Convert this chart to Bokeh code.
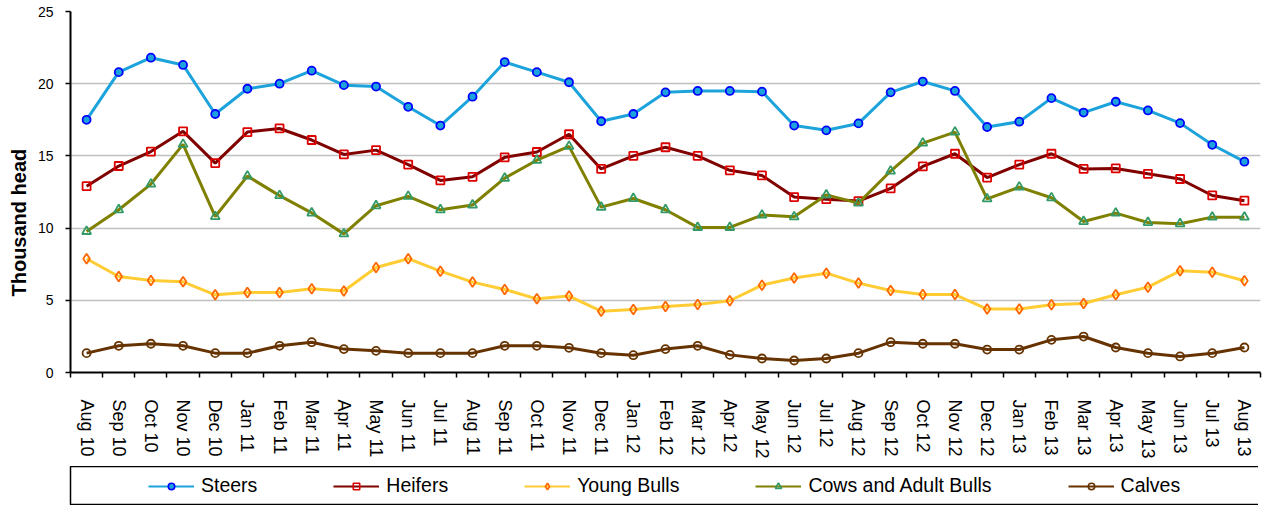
from bokeh.plotting import figure
from bokeh.models import Range1d, FixedTicker, Legend, LegendItem, Title
from bokeh.layouts import column
from bokeh.embed import file_html
from bokeh.resources import INLINE

months = ["Aug 10", "Sep 10", "Oct 10", "Nov 10", "Dec 10", "Jan 11", "Feb 11", "Mar 11",
          "Apr 11", "May 11", "Jun 11", "Jul 11", "Aug 11", "Sep 11", "Oct 11", "Nov 11",
          "Dec 11", "Jan 12", "Feb 12", "Mar 12", "Apr 12", "May 12", "Jun 12", "Jul 12",
          "Aug 12", "Sep 12", "Oct 12", "Nov 12", "Dec 12", "Jan 13", "Feb 13", "Mar 13",
          "Apr 13", "May 13", "Jun 13", "Jul 13", "Aug 13"]

steers = [17.5, 20.8, 21.8, 21.3, 17.9, 19.65, 20.0, 20.9, 19.9, 19.8, 18.4, 17.1, 19.1,
          21.5, 20.8, 20.1, 17.4, 17.9, 19.4, 19.5, 19.5, 19.45, 17.1, 16.77, 17.25,
          19.4, 20.15, 19.5, 17.0, 17.37, 19.0, 18.0, 18.75, 18.15, 17.27, 15.77, 14.6]
heifers = [12.9, 14.3, 15.3, 16.7, 14.5, 16.65, 16.9, 16.1, 15.1, 15.4, 14.4, 13.3, 13.55,
           14.9, 15.27, 16.5, 14.1, 15.0, 15.6, 15.0, 14.0, 13.65, 12.15, 12.0, 11.87,
           12.75, 14.27, 15.15, 13.5, 14.4, 15.15, 14.1, 14.13, 13.76, 13.4, 12.26, 11.9]
young_bulls = [7.88, 6.65, 6.37, 6.28, 5.38, 5.54, 5.54, 5.8, 5.65, 7.27, 7.88, 7.02, 6.26,
               5.75, 5.1, 5.29, 4.25, 4.36, 4.57, 4.71, 4.97, 6.05, 6.54, 6.88, 6.19,
               5.68, 5.4, 5.4, 4.39, 4.39, 4.69, 4.78, 5.38, 5.91, 7.04, 6.95, 6.35]
cows = [9.77, 11.27, 13.05, 15.8, 10.8, 13.6, 12.25, 11.05, 9.6, 11.55, 12.2, 11.27, 11.6,
        13.46, 14.7, 15.66, 11.45, 12.05, 11.27, 10.05, 10.05, 10.9, 10.78, 12.3, 11.73,
        13.95, 15.89, 16.65, 12.03, 12.84, 12.1, 10.46, 11.04, 10.39, 10.3, 10.76, 10.76]
calves = [1.34, 1.85, 1.99, 1.85, 1.34, 1.34, 1.85, 2.1, 1.62, 1.5, 1.34, 1.34, 1.34,
          1.85, 1.85, 1.71, 1.34, 1.2, 1.62, 1.85, 1.22, 0.97, 0.83, 0.97, 1.34,
          2.1, 1.99, 1.99, 1.59, 1.59, 2.26, 2.49, 1.73, 1.34, 1.11, 1.34, 1.73]

y_ticks = [0, 5, 10, 15, 20, 25]

FONT = "Liberation Sans"
xs = list(range(len(months)))

p = figure(frame_width=1190, frame_height=361, output_backend="svg", toolbar_location=None,
           x_range=Range1d(-0.5, len(months) - 0.5), y_range=Range1d(0, 25),
           min_border_left=68, min_border_top=11, min_border_right=2, min_border_bottom=94)
p.outline_line_color = None
p.background_fill_color = "white"
p.border_fill_color = "white"

# grids
p.xgrid.grid_line_color = None
p.ygrid.grid_line_color = "#c0c0c0"
p.ygrid.grid_line_width = 1.5

# y axis
p.yaxis.ticker = FixedTicker(ticks=y_ticks)
p.yaxis.axis_line_color = "black"
p.yaxis.axis_line_width = 2
p.yaxis.major_tick_out = 5
p.yaxis.major_tick_in = 0
p.yaxis.major_tick_line_color = "black"
p.yaxis.major_tick_line_width = 1.5
p.yaxis.minor_tick_line_color = None
p.yaxis.major_label_text_font = FONT
p.yaxis.major_label_text_font_size = "14px"
p.yaxis.major_label_text_color = "black"
p.yaxis.major_label_standoff = 12

# y axis title, placed a little below the frame centre as in the original
p.add_layout(Title(text="Thousand head", align="left", offset=76, standoff=10,
                   text_font=FONT, text_font_size="20px", text_font_style="bold",
                   text_color="black"), "left")

# x axis
p.xaxis.ticker = FixedTicker(ticks=xs, minor_ticks=[i - 0.5 for i in range(len(months) + 1)])
p.xaxis.major_label_overrides = {i: m for i, m in enumerate(months)}
p.xaxis.major_label_orientation = "vertical"
p.xaxis.axis_line_color = "black"
p.xaxis.axis_line_width = 2
p.xaxis.major_tick_out = 0
p.xaxis.major_tick_in = 0
p.xaxis.minor_tick_out = 5
p.xaxis.minor_tick_in = 0
p.xaxis.minor_tick_line_color = "black"
p.xaxis.minor_tick_line_width = 1.5
p.xaxis.major_label_text_font = FONT
p.xaxis.major_label_text_font_size = "18px"
p.xaxis.major_label_text_color = "black"
p.xaxis.major_label_standoff = 22

series = [
    ("Steers", steers, "#1ca3dc", "circle", "#0000ff", "#1ca3dc", 1.0, 8),
    ("Heifers", heifers, "#800000", "square", "#dd0000", "white", 0.0, 8),
    ("Young Bulls", young_bulls, "#ffcc33", "diamond", "#ff6600", "white", 0.0, 10),
    ("Cows and Adult Bulls", cows, "#808000", "triangle", "#339966", "white", 0.0, 9),
    ("Calves", calves, "#663300", "circle", "#663300", "white", 0.0, 8),
]

# legend strip: a second figure whose frame outline is the legend box
# (its y range is set far above the data so only the legend keys are visible)
lg = figure(frame_width=1192, frame_height=38, output_backend="svg", toolbar_location=None,
            x_axis_type=None, y_axis_type=None,
            x_range=Range1d(-0.5, len(months) - 0.5), y_range=Range1d(100, 101),
            min_border_left=66, min_border_right=0, min_border_top=0, min_border_bottom=1)
lg.grid.visible = False
lg.outline_line_color = "black"
lg.outline_line_width = 1.5
lg.background_fill_color = "white"
lg.border_fill_color = "white"

items = []
for name, vals, lc, marker, mc, fc, fa, sz in series:
    p.line(xs, vals, line_color=lc, line_width=3)
    p.scatter(xs, vals, marker=marker, size=sz, line_color=mc, line_width=1.8,
              fill_color=fc, fill_alpha=fa)
    k1 = lg.line(xs, vals, line_color=lc, line_width=2)
    k2 = lg.scatter(xs, vals, marker=marker, size=sz - 1, line_color=mc, line_width=1.6,
                    fill_color=fc, fill_alpha=fa)
    items.append(LegendItem(label=name, renderers=[k1, k2]))

legend = Legend(items=items, orientation="horizontal", location=(126, 7),
                spacing=76, padding=8, margin=0, glyph_width=46, glyph_height=16,
                label_standoff=7, border_line_color=None,
                label_text_font=FONT, label_text_font_size="19.5px", label_text_color="black",
                background_fill_alpha=0)
lg.add_layout(legend, "center")

layout = column(p, lg, spacing=0)
open("out.html", "w").write(file_html(layout, INLINE))
